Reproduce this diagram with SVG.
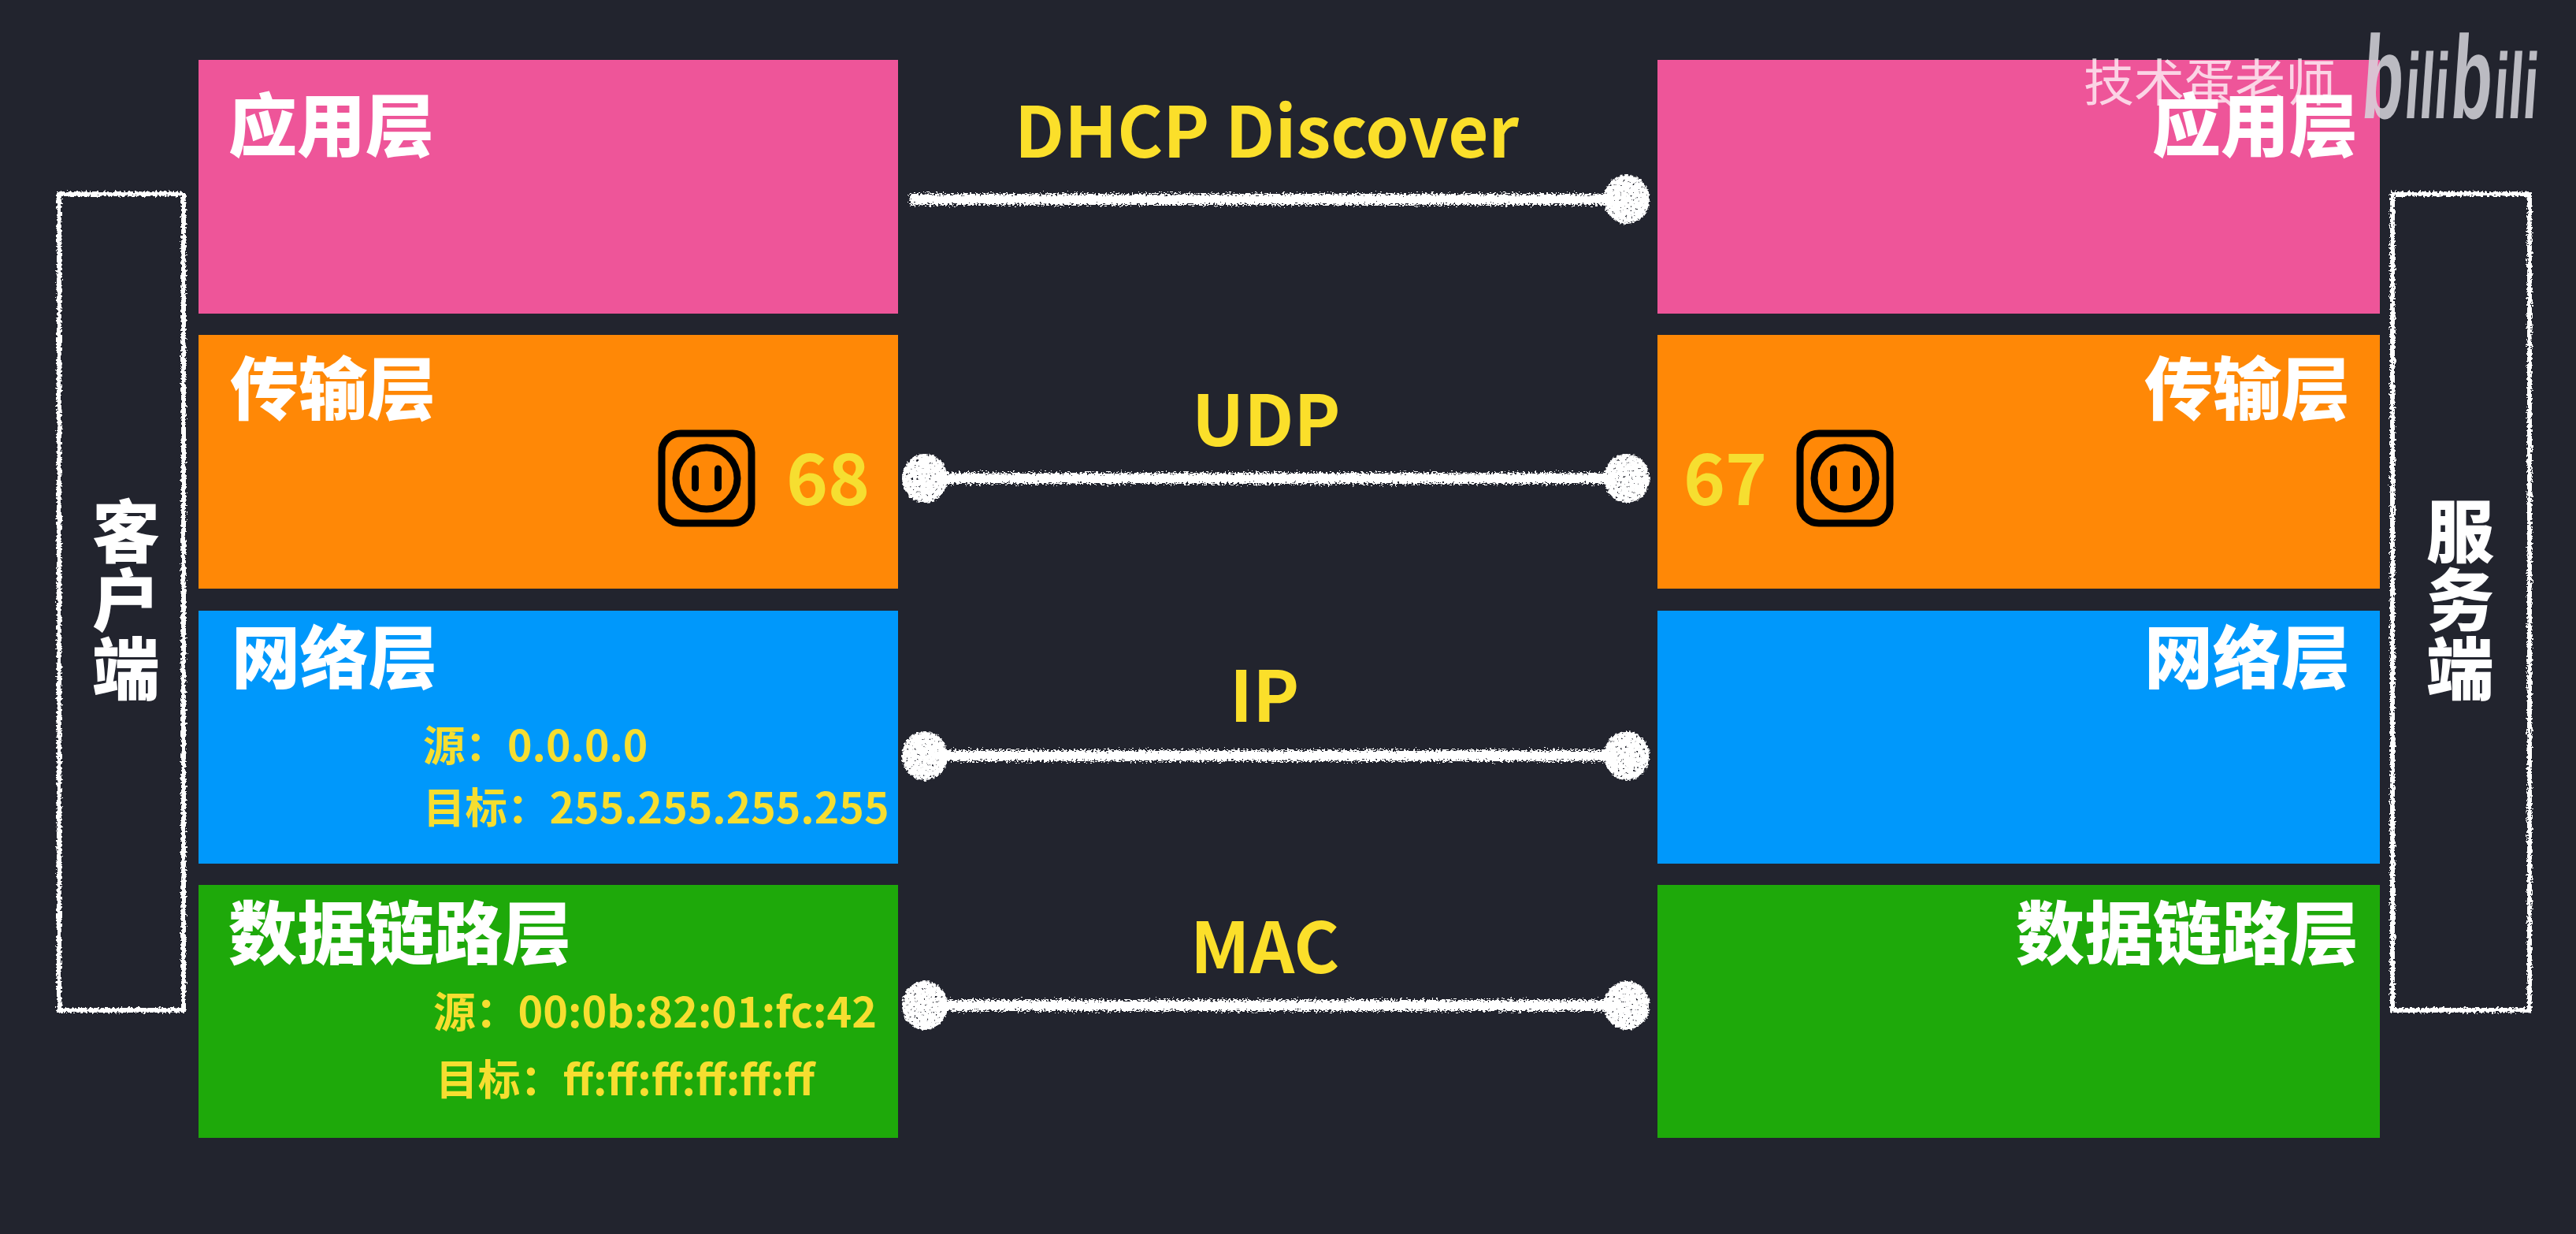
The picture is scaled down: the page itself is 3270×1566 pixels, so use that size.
<svg xmlns="http://www.w3.org/2000/svg" width="3270" height="1566" viewBox="0 0 3270 1566">
<style>
text{font-family:"Noto Sans CJK SC","Noto Sans",sans-serif}
.t{font-size:87px;font-weight:900;fill:#fff}
.s{font-size:53.500px;font-weight:700;fill:#f6de30}
.s2{font-size:53.800px;font-weight:700;fill:#f6de30}
.m{font-size:88.500px;font-weight:700;fill:#fbdf2a}
.p{font-size:90px;font-weight:700;fill:#f6de30}
.side{font-size:86px;font-weight:900;fill:#fff;text-anchor:middle}
.frame{fill:none;stroke:#fff;stroke-width:6}
.ln{stroke:#fff;stroke-width:14;fill:none}
.dot{fill:#fff}
.sock{fill:none;stroke:#000;stroke-width:9;stroke-linecap:round}
.wm{font-size:64px;font-weight:400;fill:#fff;fill-opacity:.75}
.bl{font-family:"Liberation Sans",sans-serif;font-weight:700;fill:#d6d6dc;fill-opacity:.85}
.bb{font-size:150px}
.il{font-size:118px}
</style>
<defs>
<filter id="chalk" filterUnits="userSpaceOnUse" x="0" y="0" width="3270" height="1566">
<feTurbulence type="fractalNoise" baseFrequency="0.35" numOctaves="2" seed="4" result="n"/>
<feDisplacementMap in="SourceGraphic" in2="n" scale="7" xChannelSelector="R" yChannelSelector="G"/>
</filter>
<filter id="chalkLine" filterUnits="userSpaceOnUse" x="1100" y="200" width="1000" height="1120">
<feTurbulence type="fractalNoise" baseFrequency="0.35 0.6" numOctaves="2" seed="7" result="n"/>
<feDisplacementMap in="SourceGraphic" in2="n" scale="13" xChannelSelector="R" yChannelSelector="G"/>
</filter>
<filter id="chalkDot" filterUnits="userSpaceOnUse" x="1100" y="200" width="1000" height="1120">
<feTurbulence type="fractalNoise" baseFrequency="0.3" numOctaves="2" seed="11" result="n"/>
<feDisplacementMap in="SourceGraphic" in2="n" scale="6" xChannelSelector="R" yChannelSelector="G" result="d"/>
<feColorMatrix in="n" type="matrix" values="0 0 0 0 0 0 0 0 0 0 0 0 0 0 0 9 0 0 0 -2" result="h"/>
<feComposite in="d" in2="h" operator="in"/>
</filter>
<g id="socket">
<rect class="sock" x="-57" y="-57" width="114" height="114" rx="24"/>
<circle class="sock" r="39"/>
<line class="sock" x1="-14.500" y1="-12" x2="-14.500" y2="12"/>
<line class="sock" x1="14.500" y1="-12" x2="14.500" y2="12"/>
</g>
</defs>
<rect width="3270" height="1566" fill="#22242e"/>

<g id="client-box"><rect class="frame" x="75" y="246" width="158" height="1036" filter="url(#chalk)"/>
<text class="side"><tspan x="160" y="707">客</tspan><tspan x="160" y="794">户</tspan><tspan x="160" y="881">端</tspan></text></g>
<g id="server-box"><rect class="frame" x="3037" y="246" width="174" height="1036" filter="url(#chalk)"/>
<text class="side"><tspan x="3123" y="707">服</tspan><tspan x="3123" y="794">务</tspan><tspan x="3123" y="881">端</tspan></text></g>

<g id="client-app"><rect x="252" y="76" width="888" height="322" fill="#ee5599"/><text class="t" x="290" y="192">应用层</text></g>
<g id="client-transport"><rect x="252" y="425" width="888" height="322" fill="#ff8806"/><text class="t" x="292" y="526">传输层</text>
<use href="#socket" x="897" y="607"/><text class="p" x="998" y="641">68</text></g>
<g id="client-network"><rect x="252" y="775" width="888" height="321" fill="#0098fb"/><text class="t" x="294" y="867">网络层</text>
<text class="s" x="537" y="966">源：0.0.0.0</text><text class="s" x="537" y="1045">目标：255.255.255.255</text></g>
<g id="client-link"><rect x="252" y="1123" width="888" height="321" fill="#1ea90a"/><text class="t" x="290" y="1217">数据链路层</text>
<text class="s2" x="550" y="1304">源：00:0b:82:01:fc:42</text><text class="s2" x="553" y="1390">目标：ff:ff:ff:ff:ff:ff</text></g>

<g id="server-app"><rect x="2104" y="76" width="917" height="322" fill="#ee5599"/><text class="t" x="2732" y="192">应用层</text></g>
<g id="server-transport"><rect x="2104" y="425" width="917" height="322" fill="#ff8806"/><text class="t" x="2722" y="526">传输层</text>
<use href="#socket" x="2342" y="607"/><text class="p" x="2137" y="641">67</text></g>
<g id="server-network"><rect x="2104" y="775" width="917" height="321" fill="#0098fb"/><text class="t" x="2722" y="867">网络层</text></g>
<g id="server-link"><rect x="2104" y="1123" width="917" height="321" fill="#1ea90a"/><text class="t" x="2559" y="1217">数据链路层</text></g>

<g id="connectors">
<g filter="url(#chalkLine)">
<line class="ln" x1="1155" y1="253" x2="2050" y2="253"/>
<line class="ln" x1="1190" y1="607" x2="2050" y2="607"/>
<line class="ln" x1="1190" y1="959" x2="2050" y2="959"/>
<line class="ln" x1="1190" y1="1276" x2="2050" y2="1276"/>
</g>
<g filter="url(#chalkDot)">
<ellipse class="dot" cx="2065" cy="253" rx="29" ry="31"/>
<ellipse class="dot" cx="1174" cy="607" rx="29" ry="31"/>
<ellipse class="dot" cx="2065" cy="607" rx="29" ry="31"/>
<ellipse class="dot" cx="1174" cy="959" rx="29" ry="31"/>
<ellipse class="dot" cx="2065" cy="959" rx="29" ry="31"/>
<ellipse class="dot" cx="1174" cy="1276" rx="29" ry="31"/>
<ellipse class="dot" cx="2065" cy="1276" rx="29" ry="31"/>
</g>
<text class="m" x="1288" y="200">DHCP Discover</text>
<text class="m" x="1513" y="566">UDP</text>
<text class="m" x="1561" y="916">IP</text>
<text class="m" x="1511" y="1235">MAC</text>
</g>

<g id="watermark">
<text class="wm" x="2645" y="128">技术蛋老师</text>
<text class="bl" transform="translate(2996 150) skewX(-4) scale(.57 1)"><tspan class="bb">b</tspan><tspan class="il" dx="4">ili</tspan><tspan class="bb" dx="4">b</tspan><tspan class="il" dx="4">ili</tspan></text>
</g>
</svg>
